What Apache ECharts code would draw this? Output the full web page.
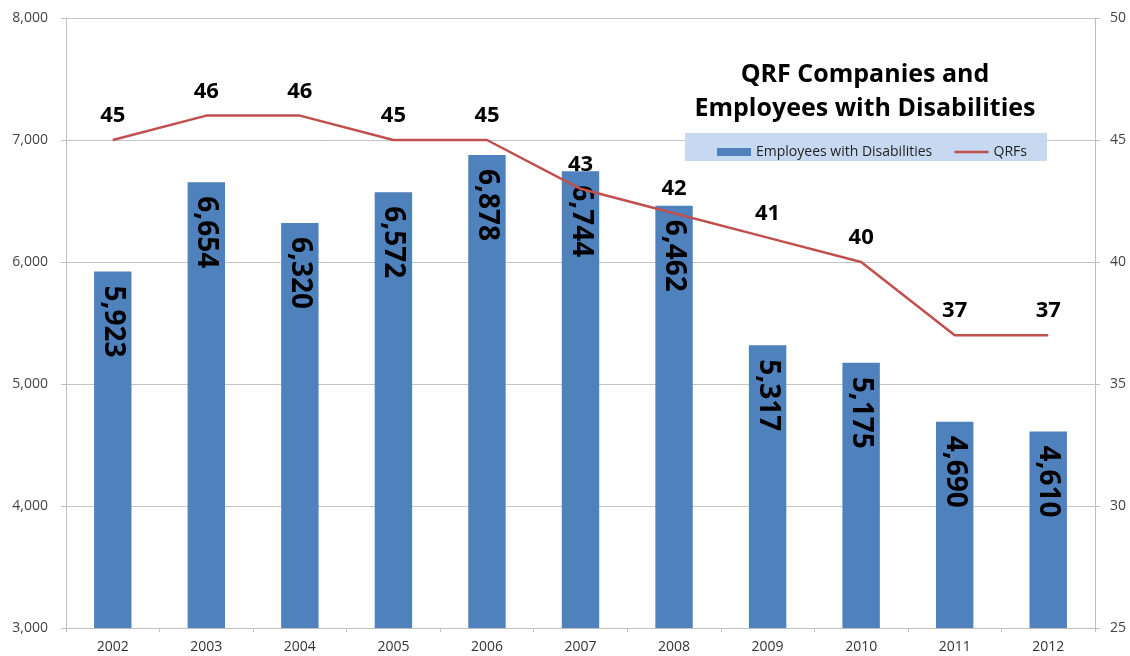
<!DOCTYPE html>
<html><head><meta charset="utf-8">
<script src="https://cdn.jsdelivr.net/npm/echarts@6/dist/echarts.min.js"></script>
<style>html,body{margin:0;padding:0;background:#fff}#c{width:1130px;height:656px}</style>
</head><body><div id="c"></div>
<script>
const years = ['2002','2003','2004','2005','2006','2007','2008','2009','2010','2011','2012'];
const employees = [5923,6654,6320,6572,6878,6744,6462,5317,5175,4690,4610];
const qrfs = [45,46,46,45,45,43,42,41,40,37,37];
const leftTicks = [3000,8000,1000];
const rightTicks = [25,50,5];

const FONT = '"Open Sans", Lato, sans-serif';
const chart = echarts.init(document.getElementById('c'));
chart.setOption({
  animation:false,
  title:{
    text:'QRF Companies and\nEmployees with Disabilities',
    left:860, top:53, textAlign:'center',
    textStyle:{fontFamily:FONT,fontSize:25,fontWeight:'bold',color:'#000',lineHeight:34}
  },
  graphic:[{type:'rect',shape:{x:685,y:133,width:362,height:28},style:{fill:'#c6d9f1'},z:5}],
  legend:{
    left:712, top:140, itemGap:21, itemWidth:34, itemHeight:8, z:10,
    textStyle:{fontFamily:FONT,fontSize:14,color:'#222'},
    data:[{name:'Employees with Disabilities',icon:'rect'},
          {name:'QRFs',itemStyle:{opacity:0},lineStyle:{color:'#c0504d',width:2.5}}]
  },
  grid:{left:66,right:35,top:18,bottom:28,containLabel:false},
  xAxis:{
    type:'category', data:years,
    axisLine:{lineStyle:{color:'#bfbfbf',width:1}},
    axisTick:{show:true,interval:0,length:4,lineStyle:{color:'#bfbfbf'}},
    axisLabel:{fontFamily:FONT,fontSize:14,color:'#333',margin:12}
  },
  yAxis:[{
    type:'value', min:leftTicks[0], max:leftTicks[1], interval:leftTicks[2],
    axisLine:{show:true,lineStyle:{color:'#bfbfbf'}},
    axisTick:{show:true,length:5,lineStyle:{color:'#bfbfbf'}},
    splitLine:{lineStyle:{color:'#c4c4c4'}},
    axisLabel:{fontFamily:FONT,fontSize:14,color:'#444',margin:18,
      formatter:v=>v.toLocaleString('en-US')}
  },{
    type:'value', min:rightTicks[0], max:rightTicks[1], interval:rightTicks[2],
    position:'right',
    axisLine:{show:true,lineStyle:{color:'#bfbfbf'}},
    axisTick:{show:true,length:5,lineStyle:{color:'#bfbfbf'}},
    splitLine:{show:false},
    axisLabel:{fontFamily:FONT,fontSize:14,color:'#444',margin:15}
  }],
  series:[{
    name:'Employees with Disabilities', type:'bar', data:employees,
    barWidth:'40%', itemStyle:{color:'#4f81bd'},
    label:{show:true,position:'insideTop',distance:14,rotate:-90,align:'left',verticalAlign:'middle',
      fontFamily:FONT,fontSize:28,fontWeight:'bold',color:'#000',
      formatter:p=>p.value.toLocaleString('en-US')}
  },{
    name:'QRFs', type:'line', yAxisIndex:1, data:qrfs,
    symbol:'none', lineStyle:{color:'#c0504d',width:2.5}, itemStyle:{color:'#c0504d'}, z:3
  },{
    name:'QRF labels', type:'scatter', yAxisIndex:1, data:qrfs,
    symbolSize:0, silent:true, z:4, itemStyle:{opacity:1},
    label:{show:true,position:'top',distance:13,fontFamily:FONT,fontSize:22,fontWeight:'bold',color:'#000',opacity:1}
  }]
});
</script></body></html>
